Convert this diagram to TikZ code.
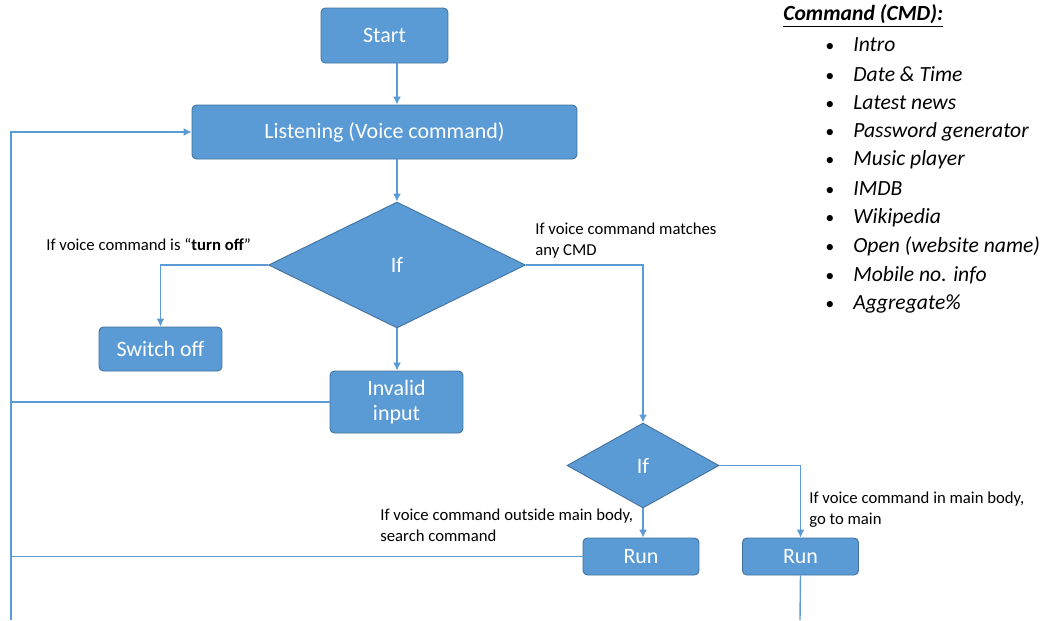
\documentclass[tikz,border=0pt]{standalone}
\usepackage{fontspec}
\setmainfont{Carlito}
\usetikzlibrary{shapes.geometric,arrows.meta}
\definecolor{boxblue}{HTML}{5B9BD5}
\definecolor{edgeblue}{HTML}{41719C}
\definecolor{lineblue}{HTML}{5B9BD5}
\begin{document}
\begin{tikzpicture}
[x=0.02cm, y=-0.02cm,
% STYLES
% step boxes of the flow
stepbox/.style={rectangle, rounded corners=2.5pt, draw=edgeblue, fill=boxblue, text=white, line width=0.5pt, font=\fontsize{12.5}{14.5}\selectfont, align=center, inner sep=2pt},
% decisions
decide/.style={diamond, draw=edgeblue, fill=boxblue, text=white, line width=0.5pt, inner sep=0pt, font=\fontsize{12.5}{14.5}\selectfont},
% connectors and their labels
flow/.style={draw=lineblue, line width=0.8pt, >={Latex[length=4.5pt,width=4.5pt]}},
note/.style={anchor=west, align=left, inner sep=0pt, font=\fontsize{9.5}{12}\selectfont},
listitem/.style={anchor=west, inner sep=0pt, font=\fontsize{12.3}{14}\selectfont\itshape}]

\useasboundingbox (0,0) rectangle (1046,620);

% Draw steps
\node [stepbox, minimum width=2.54cm, minimum height=1.1cm] (start) at (384.5,35.5) {Start};
\node [stepbox, minimum width=7.7cm, minimum height=1.08cm] (listen) at (384.5,132) {Listening (Voice command)};
\node [decide, minimum width=5.14cm, minimum height=2.52cm] (ifmain) at (397,265) {If};
\node [stepbox, minimum width=2.46cm, minimum height=0.88cm] (switchoff) at (160.5,349) {Switch off};
\node [stepbox, minimum width=2.66cm, minimum height=1.24cm] (invalid) at (396.5,402) {Invalid\\input};
\node [decide, minimum width=3.04cm, minimum height=1.7cm] (ifcmd) at (643,465.5) {If};
\node [stepbox, minimum width=2.32cm, minimum height=0.74cm] (runout) at (641,556.5) {Run};
\node [stepbox, minimum width=2.32cm, minimum height=0.74cm] (runmain) at (800.5,556.5) {Run};
\coordinate (loopbot) at (11,620);
\coordinate (mainbot) at (800,620);

% Draw connectors
\draw [flow,->] (start.south -| ifmain.north) -- (listen.north -| ifmain.north);
\draw [flow,->] (listen.south -| ifmain.north) -- (ifmain.north);
\draw [flow,->] (ifmain.west) -| (switchoff.north);
\draw [flow,->] (ifmain.south) -- (invalid.north -| ifmain.south);
\draw [flow,->] (ifmain.east) -| (ifcmd.north);
\draw [flow,->] (ifcmd.south) -- (runout.north -| ifcmd.south);
\draw [flow,->] (ifcmd.east) -| (runmain.north);
\draw [flow,->] (loopbot) |- (listen.west);
\draw [flow] (invalid.west) -- (invalid.west -| loopbot);
\draw [flow] (runout.west) -- (runout.west -| loopbot);
\draw [flow] (runmain.south) -- (mainbot);

% Labels
\node [note] (offlbl) at (46,245) {If voice command is “\textbf{turn off}”};
\node [note] (matchlbl) at (535,240.5) {If voice command matches\\any CMD};
\node [note] (outlbl) at (380,525.5) {If voice command outside main body,\\search command};
\node [note] (inlbl) at (809,509.5) {If voice command in main body,\\go to main};

% Command list
\node [listitem, font=\fontsize{12.3}{14}\selectfont\bfseries\itshape] (cmdtitle) at (783,16) {\underline{Command (CMD):}};
\foreach \cmd [count=\i from 0] in {Intro, Date \& Time, Latest news, Password generator, Music player, IMDB, Wikipedia, Open (website name), Mobile no. info, Aggregate\%}
  \node [listitem] (cmd\i) at (853,45+28.8*\i) {\llap{{\fontsize{10}{11}\selectfont\textbullet}\hspace{11pt}}\cmd};

\end{tikzpicture}
\end{document}
